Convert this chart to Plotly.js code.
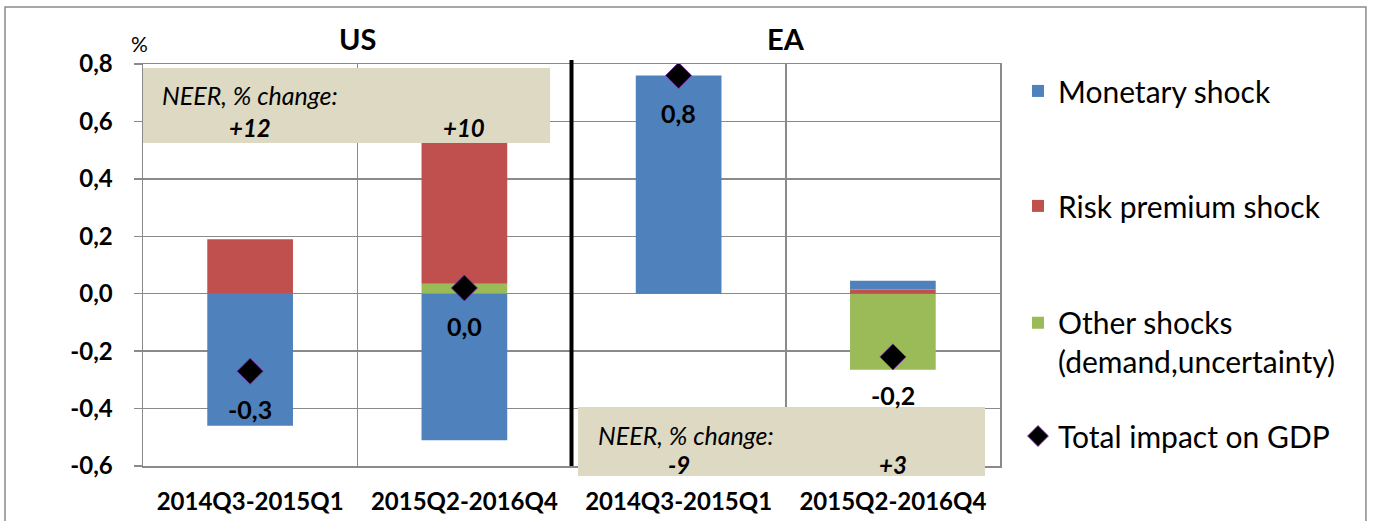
<!DOCTYPE html>
<html>
<head>
<meta charset="utf-8">
<script src="https://cdn.plot.ly/plotly-3.0.1.min.js"></script>
<style>html,body{margin:0;padding:0;background:#fff;}#chart{width:1373px;height:521px;}</style>
</head>
<body>
<div id="chart"></div>
<script>
// ---- data ----
const categories = ['2014Q3-2015Q1', '2015Q2-2016Q4', '2014Q3-2015Q1', '2015Q2-2016Q4'];
const regions = ['US', 'US', 'EA', 'EA'];
const monetaryShock = [-0.46, -0.51, 0.76, 0.03];
const riskPremiumShock = [0.19, 0.49, 0, 0.015];
const otherShocks = [0, 0.035, 0, -0.265];
const totalImpact = [-0.27, 0.02, 0.76, -0.22];
const neerChange = ['+12', '+10', '-9', '+3'];
const regionTitles = ['US', 'EA'];
const yTickVals = [-0.6, -0.4, -0.2, 0, 0.2, 0.4, 0.6, 0.8];
const yTickText = ['-0,6', '-0,4', '-0,2', '0,0', '0,2', '0,4', '0,6', '0,8'];
const seriesNames = ['Monetary shock', 'Risk premium shock', 'Other shocks<br>(demand,uncertainty)', 'Total impact on GDP'];

// unique category keys so the repeated period labels stay separate
const keys = regions.map((r, i) => r + ' ' + categories[i]);
const fmt = v => v.toFixed(1).replace('.', ',').replace('-0,0', '0,0');

const FONT = 'Lato, "Open Sans", sans-serif';
const GRID = '#8a8a8a';

const barCommon = {type: 'bar', x: keys, width: 0.4, hoverinfo: 'skip'};
const traces = [
  Object.assign({}, barCommon, {y: otherShocks, name: seriesNames[2], marker: {color: '#9BBB59'}, legend: 'legend3'}),
  Object.assign({}, barCommon, {y: riskPremiumShock, name: seriesNames[1], marker: {color: '#C0504D'}, legend: 'legend2'}),
  Object.assign({}, barCommon, {y: monetaryShock, name: seriesNames[0], marker: {color: '#4F81BD'}, legend: 'legend'}),
  {type: 'scatter', mode: 'markers', x: keys, y: totalImpact, name: seriesNames[3], legend: 'legend4',
   marker: {symbol: 'diamond', size: 20, color: '#000000', line: {color: '#7030A0', width: 1}}, hoverinfo: 'skip'}
];

const annotations = [];
// data labels of the total impact
keys.forEach((k, i) => annotations.push({
  xref: 'x', yref: 'y', x: k, y: totalImpact[i], yshift: -38, showarrow: false,
  xanchor: 'center', yanchor: 'middle',
  text: '<b>' + fmt(totalImpact[i]) + '</b>', font: {family: FONT, size: 25, color: '#000'}
}));
// region titles centred over their pair of periods
regionTitles.forEach((t, j) => annotations.push({
  xref: 'x', yref: 'paper', x: 2 * j + 0.5, y: 1.063, showarrow: false, xanchor: 'center', yanchor: 'middle',
  text: '<b>' + t + '</b>', font: {family: FONT, size: 29, color: '#000'}
}));
annotations.push({xref: 'paper', yref: 'paper', x: -0.004, y: 1.05, showarrow: false, xanchor: 'center', yanchor: 'middle',
  text: '%', font: {family: FONT, size: 21, color: '#000'}});
// NEER boxes text
annotations.push({xref: 'paper', yref: 'paper', x: 0.0198, y: 0.923, xanchor: 'left', yanchor: 'middle', showarrow: false,
  text: '<i>NEER, % change:</i>', font: {family: FONT, size: 25, color: '#000'}});
annotations.push({xref: 'paper', yref: 'paper', x: 0.5286, y: 0.077, xanchor: 'left', yanchor: 'middle', showarrow: false,
  text: '<i>NEER, % change:</i>', font: {family: FONT, size: 25, color: '#000'}});
keys.forEach((k, i) => annotations.push({
  xref: 'x', yref: 'paper', x: k, y: regions[i] === 'US' ? 0.843 : 0.0025, showarrow: false,
  xanchor: 'center', yanchor: 'middle',
  text: '<b><i>' + neerChange[i] + '</i></b>', font: {family: FONT, size: 24, color: '#000'}
}));

const shapes = [
  // outer chart frame
  {type: 'rect', xref: 'paper', yref: 'paper', x0: -0.161, x1: 1.427, y0: -0.2, y1: 1.142,
   line: {color: '#8a8a8a', width: 1.5}, layer: 'below'},
  // separator between US and EA
  {type: 'line', xref: 'x', yref: 'paper', x0: 1.5, x1: 1.5, y0: 0, y1: 1.01,
   line: {color: '#000', width: 4}, layer: 'above'},
  // NEER boxes
  {type: 'rect', xref: 'paper', yref: 'paper', x0: 0, x1: 0.475, y0: 0.8035, y1: 0.99,
   fillcolor: '#DDD9C3', line: {width: 0}, layer: 'above'},
  {type: 'rect', xref: 'paper', yref: 'paper', x0: 0.5076, x1: 0.9825, y0: -0.025, y1: 0.1468,
   fillcolor: '#DDD9C3', line: {width: 0}, layer: 'above'}
];

const legendCommon = {x: 1.021, xanchor: 'left', yanchor: 'middle', bgcolor: 'rgba(0,0,0,0)',
  font: {family: FONT, size: 30, color: '#000'}, valign: 'top', itemclick: false, itemdoubleclick: false};

const layout = {
  width: 1373, height: 521,
  margin: {l: 143, r: 373, t: 64, b: 55},
  paper_bgcolor: '#ffffff', plot_bgcolor: '#ffffff',
  barmode: 'relative', bargap: 0.6,
  showlegend: true,
  legend: Object.assign({}, legendCommon, {y: 0.933}),
  legend2: Object.assign({}, legendCommon, {y: 0.647}),
  legend3: Object.assign({}, legendCommon, {y: 0.308}),
  legend4: Object.assign({}, legendCommon, {y: 0.0746}),
  xaxis: {
    type: 'category', range: [-0.5, 3.5], tickmode: 'array', tickvals: keys, ticktext: categories.map(c => '<b>' + c + '</b>'),
    tickson: 'boundaries', ticks: '', showgrid: true, gridcolor: GRID, gridwidth: 1.5,
    showline: true, linecolor: GRID, linewidth: 1.5, mirror: true,
    tickfont: {family: FONT, size: 24, color: '#000'}, ticklabelstandoff: 14, fixedrange: true
  },
  yaxis: {
    range: [-0.6, 0.8], tickmode: 'array', tickvals: yTickVals, ticktext: yTickText.map(t => '<b>' + t + '</b>'),
    ticks: 'outside', ticklen: 8, tickcolor: GRID, tickwidth: 1.5,
    showgrid: true, gridcolor: GRID, gridwidth: 1.5, zeroline: false,
    showline: true, linecolor: GRID, linewidth: 1.5, mirror: true,
    tickfont: {family: FONT, size: 24, color: '#000'}, ticklabelstandoff: 16, fixedrange: true
  },
  annotations: annotations,
  shapes: shapes
};

Plotly.newPlot('chart', traces, layout, {staticPlot: true, displayModeBar: false});
</script>
</body>
</html>
